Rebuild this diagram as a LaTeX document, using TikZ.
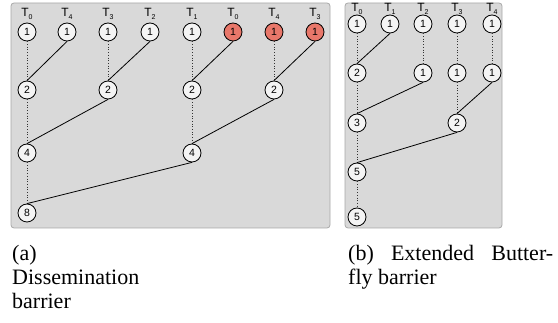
\documentclass[tikz,border=0pt]{standalone}
\usepackage{fontspec}
\setmainfont{Liberation Serif}
\newfontfamily\arialf{Liberation Sans}
\definecolor{boxfill}{HTML}{D9D9D9}
\definecolor{boxline}{HTML}{A8A8A8}
\definecolor{nodefill}{HTML}{F4F4F4}
\definecolor{redfill}{HTML}{E8776A}
\tikzset{
  panel/.style={draw=boxline, fill=boxfill, line width=0.8pt, rounded corners=3pt},
  cnode/.style={circle, draw=black, fill=nodefill, line width=0.8pt, minimum size=18pt, inner sep=0pt, font=\arialf\fontsize{10.5}{10.5}\selectfont},
  rnode/.style={cnode, fill=redfill},
  tlabel/.style={font=\arialf\fontsize{12}{12}\selectfont, inner sep=0pt},
  dotline/.style={dotted, line width=0.7pt, draw=black!80},
  solidline/.style={line width=0.8pt, draw=black},
  caption/.style={font=\fontsize{22}{24}\selectfont, inner sep=0pt, anchor=base west}
}
\newcommand{\tl}[1]{T\raisebox{-2.5pt}{\fontsize{7}{7}\selectfont #1}}
\begin{document}
\begin{tikzpicture}[x=1pt,y=-1pt]
\useasboundingbox (0,0) rectangle (558,323);
% panels
\draw[panel] (11,3) rectangle (330,228);
\draw[panel] (345,3) rectangle (502,228);
% ---------- (a) ----------
\foreach \x/\t [count=\i] in {27/0,67/4,108/3,150/2,192/1,233/0,274/4,315/3}{
  \node[tlabel] (at\i) at (\x,14) {\tl{\t}};
}
\node[cnode] (a11) at (27,32) {1};
\node[cnode] (a12) at (67,32) {1};
\node[cnode] (a13) at (108,32) {1};
\node[cnode] (a14) at (150,32) {1};
\node[cnode] (a15) at (192,32) {1};
\node[rnode] (a16) at (233,32) {1};
\node[rnode] (a17) at (274,32) {1};
\node[rnode] (a18) at (315,32) {1};
\node[cnode] (a21) at (27,90) {2};
\node[cnode] (a23) at (108,90) {2};
\node[cnode] (a25) at (192,90) {2};
\node[cnode] (a27) at (274,90) {2};
\node[cnode] (a31) at (27,153) {4};
\node[cnode] (a35) at (192,153) {4};
\node[cnode] (a41) at (27,213) {8};
\draw[dotline] (a11.south) -- (a21.north);
\draw[dotline] (a13.south) -- (a23.north);
\draw[dotline] (a15.south) -- (a25.north);
\draw[dotline] (a17.south) -- (a27.north);
\draw[dotline] (a21.south) -- (a31.north);
\draw[dotline] (a25.south) -- (a35.north);
\draw[dotline] (a31.south) -- (a41.north);
\draw[solidline] (a12.south) -- (a21.north);
\draw[solidline] (a14.south) -- (a23.north);
\draw[solidline] (a16.south) -- (a25.north);
\draw[solidline] (a18.south) -- (a27.north);
\draw[solidline] (a23.south) -- (a31.north);
\draw[solidline] (a27.south) -- (a35.north);
\draw[solidline] (a35.south) -- (a41.north);
% ---------- (b) ----------
\foreach \x/\t [count=\i] in {357/0,390/1,423/2,457/3,492/4}{
  \node[tlabel] (bt\i) at (\x,9) {\tl{\t}};
}
\node[cnode] (b11) at (357,24) {1};
\node[cnode] (b12) at (390,24) {1};
\node[cnode] (b13) at (423,24) {1};
\node[cnode] (b14) at (457,24) {1};
\node[cnode] (b15) at (492,24) {1};
\node[cnode] (b21) at (357,73) {2};
\node[cnode] (b23) at (423,73) {1};
\node[cnode] (b24) at (457,73) {1};
\node[cnode] (b25) at (492,73) {1};
\node[cnode] (b31) at (357,123) {3};
\node[cnode] (b34) at (457,123) {2};
\node[cnode] (b41) at (357,172) {5};
\node[cnode] (b51) at (357,217) {5};
\draw[dotline] (b11.south) -- (b21.north);
\draw[dotline] (b13.south) -- (b23.north);
\draw[dotline] (b14.south) -- (b24.north);
\draw[dotline] (b15.south) -- (b25.north);
\draw[dotline] (b21.south) -- (b31.north);
\draw[dotline] (b24.south) -- (b34.north);
\draw[dotline] (b31.south) -- (b41.north);
\draw[dotline] (b41.south) -- (b51.north);
\draw[solidline] (b12.south) -- (b21.north);
\draw[solidline] (b23.south) -- (b31.north);
\draw[solidline] (b25.south) -- (b34.north);
\draw[solidline] (b34.south) -- (b41.north);
% captions
\node[caption] (capa1) at (12,261) {(a)};
\node[caption] (capa2) at (12,285) {Dissemination};
\node[caption] (capa3) at (12,309) {barrier};
\node[caption] (capb1) at (348,261) {\hbox to 205pt{(b)\hfil Extended\hfil Butter-}};
\node[caption] (capb2) at (348,285) {fly barrier};
\end{tikzpicture}
\end{document}
